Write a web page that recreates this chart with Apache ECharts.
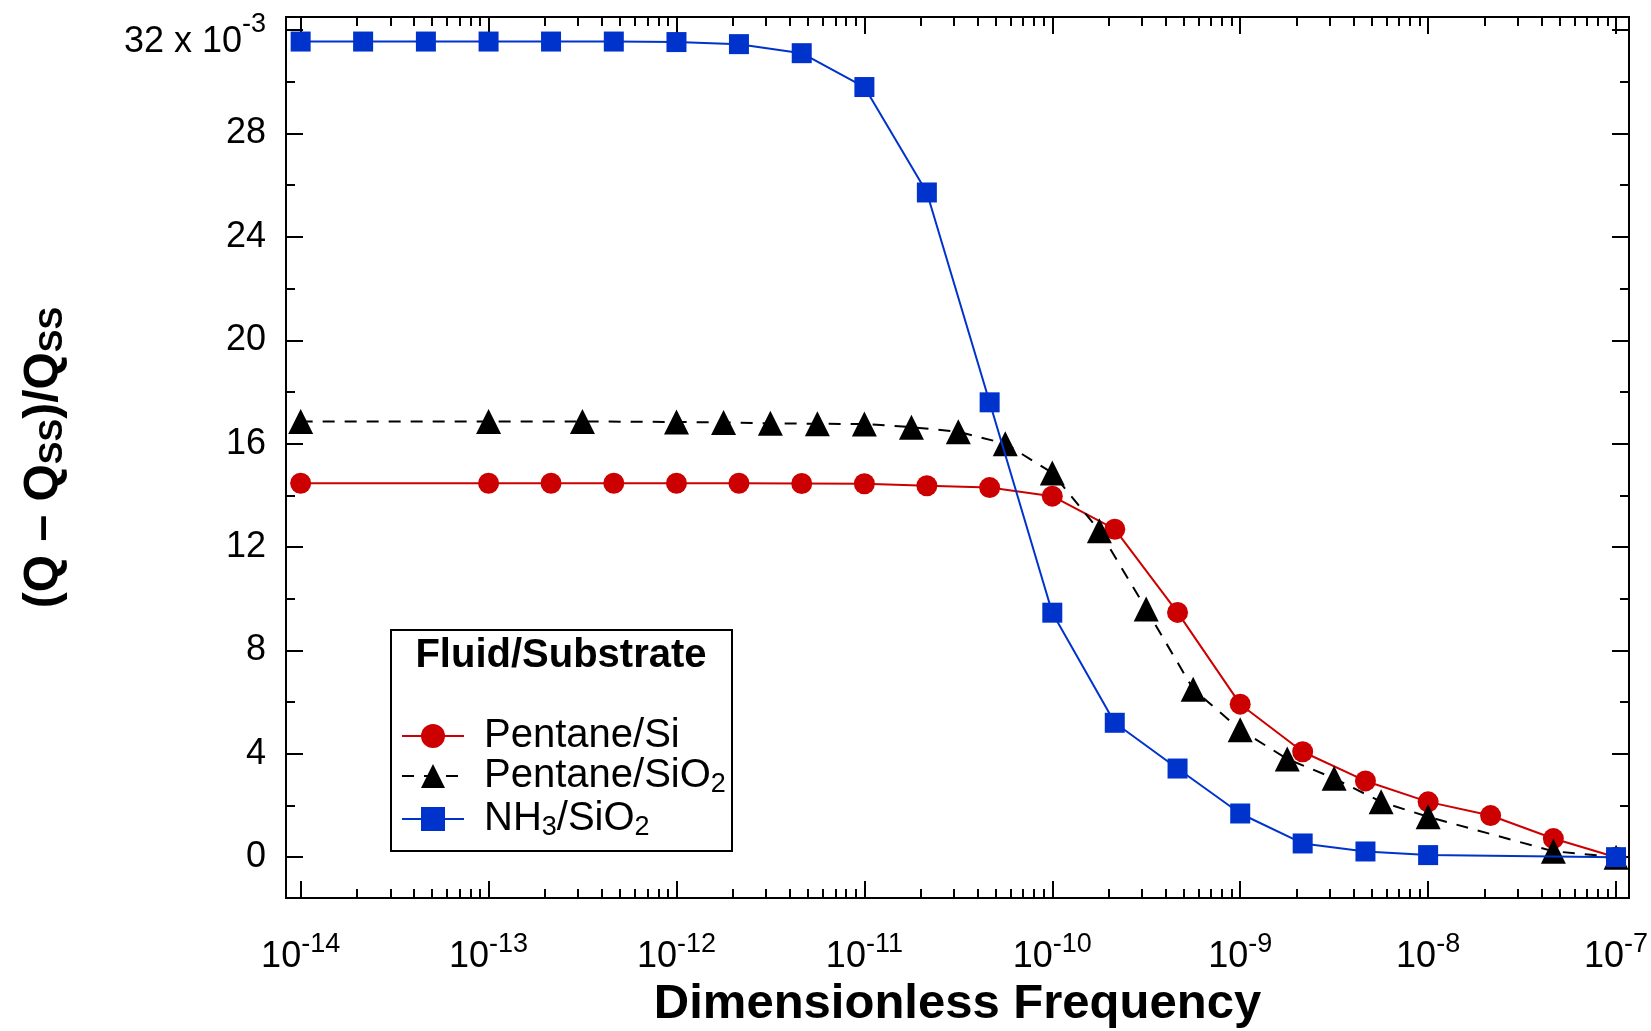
<!DOCTYPE html>
<html><head><meta charset="utf-8">
<script src="https://cdn.jsdelivr.net/npm/echarts@6/dist/echarts.min.js"></script>
<style>html,body{margin:0;padding:0;background:#fff}#c{width:1651px;height:1031px}</style>
</head><body><div id="c"></div>
<script>
const FONT = "'Liberation Sans', Arial, Helvetica, sans-serif";

// ---- tick labels ----
const xTickValues = [1e-14, 1e-13, 1e-12, 1e-11, 1e-10, 1e-9, 1e-8, 1e-7];
const yTickValues = [0, 4, 8, 12, 16, 20, 24, 28, 32];
const yMinorValues = [2, 6, 10, 14, 18, 22, 26, 30];

// ---- series data (values in units of 10^-3) ----
const pentaneSiX = [1e-14, 1e-13, 2.15e-13, 4.64e-13, 1e-12, 2.15e-12, 4.64e-12, 1e-11, 2.15e-11, 4.64e-11,
  1e-10, 2.15e-10, 4.64e-10, 1e-9, 2.15e-9, 4.64e-9, 1e-8, 2.15e-8, 4.64e-8, 1e-7];
const pentaneSiY = [14.47, 14.47, 14.47, 14.47, 14.47, 14.47, 14.46, 14.45, 14.37, 14.30,
  13.97, 12.69, 9.47, 5.92, 4.08, 2.95, 2.14, 1.61, 0.72, 0.0];

const pentaneSiO2X = [1e-14, 1e-13, 3.16e-13, 1e-12, 1.78e-12, 3.16e-12, 5.62e-12, 1e-11, 1.78e-11, 3.16e-11, 5.62e-11,
  1e-10, 1.78e-10, 3.16e-10, 5.62e-10, 1e-9, 1.78e-9, 3.16e-9, 5.62e-9, 1e-8, 4.64e-8, 1e-7];
const pentaneSiO2Y = [16.86, 16.86, 16.86, 16.84, 16.82, 16.79, 16.77, 16.76, 16.64, 16.46, 16.0,
  14.87, 12.63, 9.60, 6.50, 4.93, 3.80, 3.05, 2.14, 1.56, 0.23, 0.0];

const nh3SiO2X = [1e-14, 2.15e-14, 4.64e-14, 1e-13, 2.15e-13, 4.64e-13, 1e-12, 2.15e-12, 4.64e-12, 1e-11,
  2.15e-11, 4.64e-11, 1e-10, 2.15e-10, 4.64e-10, 1e-9, 2.15e-9, 4.64e-9, 1e-8, 1e-7];
const nh3SiO2Y = [31.56, 31.56, 31.56, 31.56, 31.56, 31.56, 31.54, 31.46, 31.11, 29.80,
  25.72, 17.60, 9.46, 5.20, 3.43, 1.69, 0.53, 0.22, 0.08, 0.0];

const seriesNames = ['Pentane/Si', 'Pentane/SiO2', 'NH3/SiO2'];

// minor log ticks 2..9 inside each decade
const xMinorValues = [];
for (let i = 0; i < xTickValues.length - 1; i++) {
  for (let m = 2; m <= 9; m++) xMinorValues.push(xTickValues[i] * m);
}

const X_MIN = Math.pow(10, -14.078), X_MAX = Math.pow(10, -6.931);
const Y_MIN = -1.58, Y_MAX = 32.51;

const supRich = {
  b: { fontSize: 36, fontFamily: FONT, color: '#000' },
  sup: { fontSize: 27, fontFamily: FONT, color: '#000', padding: [0, 0, 26, 0] },
  b32: { fontSize: 36, fontFamily: FONT, color: '#000', padding: [24, 0, 0, 0] },
  sup32: { fontSize: 27, fontFamily: FONT, color: '#000', padding: [24, 0, 36, 0] }
};

function xAx(pos, tickVals, len, showLabel, extra) {
  return Object.assign({
    type: 'log', logBase: 10, min: X_MIN, max: X_MAX, position: pos,
    axisLine: { show: true, onZero: false, lineStyle: { color: '#000', width: 2 } },
    axisTick: { show: true, inside: true, length: len, customValues: tickVals, lineStyle: { color: '#000', width: 2 } },
    axisLabel: {
      show: showLabel, customValues: xTickValues, margin: 33,
      formatter: v => '{b|10}{sup|' + Math.round(Math.log10(v)) + '}',
      rich: supRich
    },
    splitLine: { show: false }, minorTick: { show: false }, minorSplitLine: { show: false }
  }, extra || {});
}
function yAx(pos, tickVals, len, showLabel, extra) {
  return Object.assign({
    type: 'value', min: Y_MIN, max: Y_MAX, position: pos,
    axisLine: { show: true, onZero: false, lineStyle: { color: '#000', width: 2 } },
    axisTick: { show: true, inside: true, length: len, customValues: tickVals, lineStyle: { color: '#000', width: 2 } },
    axisLabel: {
      show: showLabel, customValues: yTickValues, margin: 20,
      formatter: v => v === 32 ? '{b32|32 x 10}{sup32|-3}' : '{b|' + v + '}',
      rich: supRich
    },
    splitLine: { show: false }, minorTick: { show: false }, minorSplitLine: { show: false }
  }, extra || {});
}

function zip(xs, ys) { return xs.map((x, i) => [x, ys[i]]); }

const legendRich = {
  sub: { fontSize: 27, fontFamily: FONT, color: '#000', padding: [18, 0, 0, 0] }
};
function legendAt(name, top) {
  return {
    data: [name], left: 401, top: top, padding: 0, itemWidth: 62, itemHeight: 30, itemGap: 22,
    textStyle: { fontSize: 40, fontFamily: FONT, color: '#000', rich: legendRich, padding: [0, 0, 0, 15] },
    formatter: n => n.replace(/(\d)/g, '{sub|$1}'),
    selectedMode: false
  };
}

const chart = echarts.init(document.getElementById('c'), null, { renderer: 'canvas' });
chart.setOption({
  animation: false,
  backgroundColor: '#fff',
  grid: { left: 286, right: 22, top: 17, bottom: 133, containLabel: false, outerBoundsMode: 'none' },
  xAxis: [
    xAx('bottom', xTickValues, 17, true, {
      name: 'Dimensionless Frequency', nameLocation: 'middle', nameGap: 78,
      nameTextStyle: { fontSize: 49, fontWeight: 'bold', fontFamily: FONT, color: '#000' }
    }),
    xAx('bottom', xMinorValues, 9, false),
    xAx('top', xTickValues, 17, false),
    xAx('top', xMinorValues, 9, false)
  ],
  yAxis: [
    yAx('left', yTickValues, 17, true, {
      name: '(Q – Q{s|SS})/Q{s|SS}', nameLocation: 'middle', nameRotate: 90, nameGap: 216,
      nameTextStyle: {
        fontSize: 48, fontWeight: 'bold', fontFamily: FONT, color: '#000',
        rich: { s: { fontSize: 34, fontWeight: 'bold', fontFamily: FONT, color: '#000', padding: [18, 0, 0, 0] } }
      }
    }),
    yAx('left', yMinorValues, 9, false),
    yAx('right', yTickValues, 17, false),
    yAx('right', yMinorValues, 9, false)
  ],
  legend: [
    legendAt(seriesNames[0], 716),
    legendAt(seriesNames[1], 756),
    legendAt(seriesNames[2], 799)
  ],
  graphic: [
    { type: 'rect', shape: { x: 391, y: 630, width: 341, height: 221 },
      style: { fill: 'none', stroke: '#000', lineWidth: 2 }, z: 10 },
    { type: 'text', x: 561, y: 656,
      style: { text: 'Fluid/Substrate', font: 'bold 40px ' + FONT, fill: '#000', align: 'center', verticalAlign: 'middle' }, z: 10 }
  ],
  series: [
    {
      type: 'line', name: seriesNames[0], data: zip(pentaneSiX, pentaneSiY),
      symbol: 'circle', symbolSize: 21,
      itemStyle: { color: '#cc0000' }, lineStyle: { color: '#cc0000', width: 2 }, z: 3
    },
    {
      type: 'line', name: seriesNames[1], data: zip(pentaneSiO2X, pentaneSiO2Y),
      symbol: 'triangle', symbolSize: 25,
      itemStyle: { color: '#000' }, lineStyle: { color: '#000', width: 2, type: [12, 10] }, z: 4
    },
    {
      type: 'line', name: seriesNames[2], data: zip(nh3SiO2X, nh3SiO2Y),
      symbol: 'rect', symbolSize: 20,
      itemStyle: { color: '#0033cc' }, lineStyle: { color: '#0033cc', width: 2 }, z: 5
    }
  ]
});
</script></body></html>
